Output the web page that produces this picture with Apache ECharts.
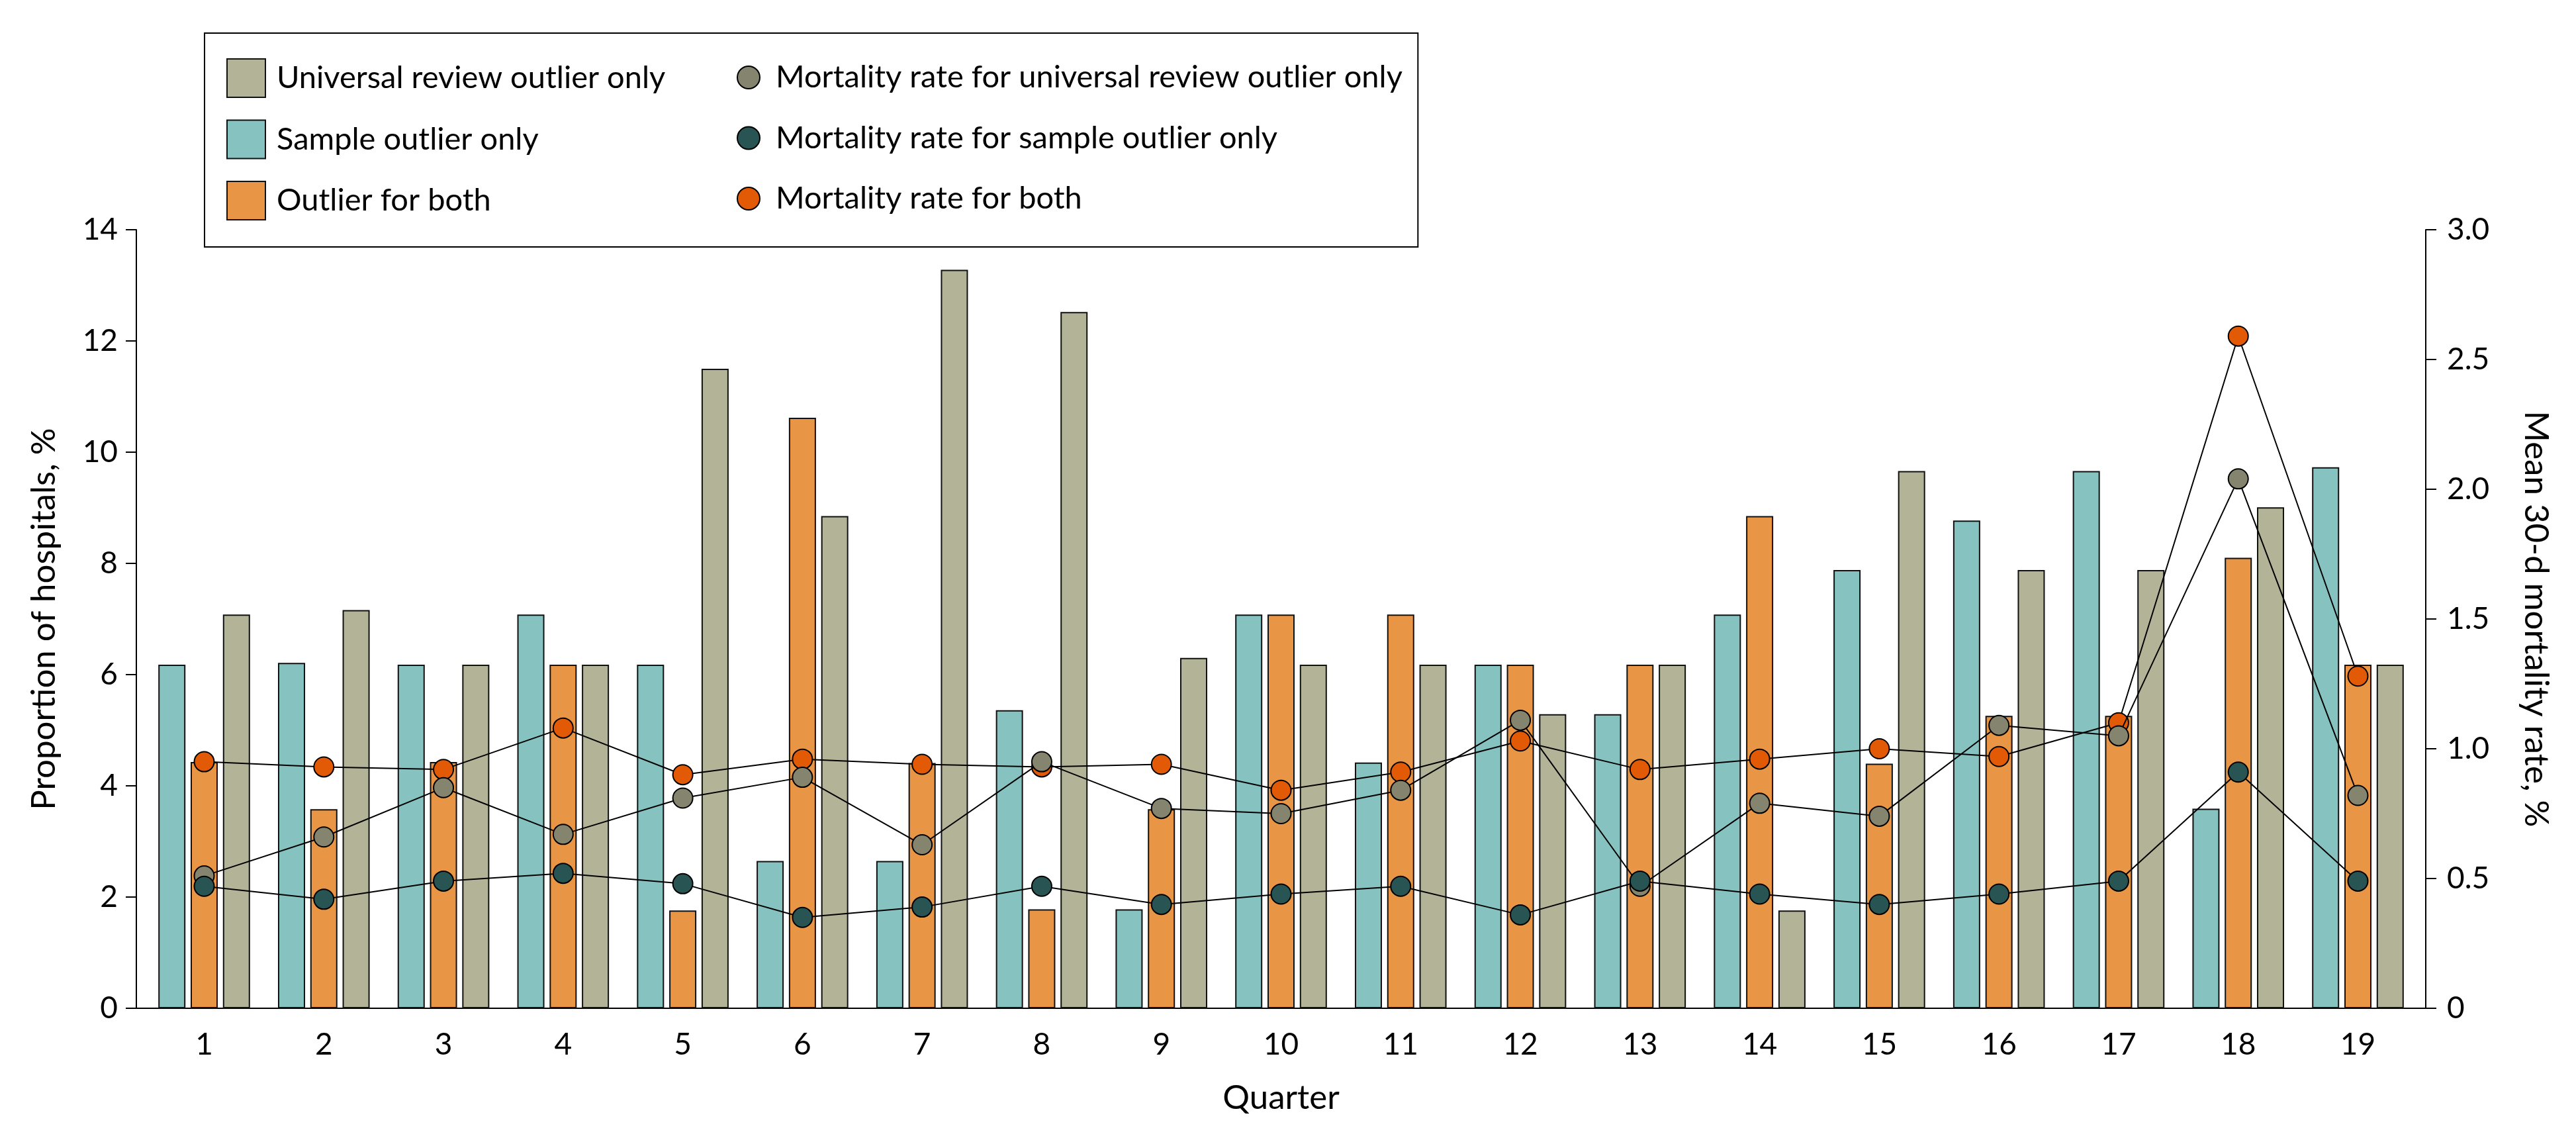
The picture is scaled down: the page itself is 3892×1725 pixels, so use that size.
<!DOCTYPE html>
<html>
<head>
<meta charset="utf-8">
<script src="https://cdn.jsdelivr.net/npm/echarts@6/dist/echarts.min.js"></script>
<style>
html,body{margin:0;padding:0;background:#fff;}
#c{width:3892px;height:1725px;}
</style>
</head>
<body>
<div id="c"></div>
<script>
// ---- data ----
const quarters = [1,2,3,4,5,6,7,8,9,10,11,12,13,14,15,16,17,18,19];
const sampleOutlierOnly = [6.18,6.21,6.18,7.08,6.18,2.65,2.65,5.36,1.78,7.08,4.42,6.18,5.29,7.08,7.88,8.77,9.66,3.59,9.73];
const outlierForBoth    = [4.43,3.58,4.43,6.18,1.76,10.62,4.41,1.78,3.58,7.08,7.08,6.18,6.18,8.85,4.40,5.26,5.26,8.10,6.18];
const universalOnly     = [7.08,7.16,6.18,6.18,11.50,8.85,13.28,12.52,6.30,6.18,6.18,5.29,6.18,1.76,9.66,7.88,7.88,9.01,6.18];
const mortalityBoth      = [0.95,0.93,0.92,1.08,0.90,0.96,0.94,0.93,0.94,0.84,0.91,1.03,0.92,0.96,1.00,0.97,1.10,2.59,1.28];
const mortalityUniversal = [0.51,0.66,0.85,0.67,0.81,0.89,0.63,0.95,0.77,0.75,0.84,1.11,0.47,0.79,0.74,1.09,1.05,2.04,0.82];
const mortalitySample    = [0.47,0.42,0.49,0.52,0.48,0.35,0.39,0.47,0.40,0.44,0.47,0.36,0.49,0.44,0.40,0.44,0.49,0.91,0.49];
const leftTickLabels  = ['0','2','4','6','8','10','12','14'];
const rightTickLabels = ['0','0.5','1.0','1.5','2.0','2.5','3.0'];

const NAMES = {
  universal: 'Universal review outlier only',
  sample: 'Sample outlier only',
  both: 'Outlier for both',
  mUniversal: 'Mortality rate for universal review outlier only',
  mSample: 'Mortality rate for sample outlier only',
  mBoth: 'Mortality rate for both'
};

const FONT = 'Lato';
const pairs = (vals) => quarters.map((q, i) => [q, vals[i]]);

const chart = echarts.init(document.getElementById('c'), null, {renderer: 'canvas', width: 3892, height: 1725});

const barStyle = (color) => ({color: color, borderColor: '#111', borderWidth: 2});
const lineSeries = (name, vals, color, z) => ({
  type: 'line', name: name, yAxisIndex: 1, data: pairs(vals),
  symbol: 'circle', symbolSize: 30, z: z,
  lineStyle: {color: '#000', width: 2},
  itemStyle: {color: color, borderColor: '#000', borderWidth: 2},
  emphasis: {disabled: true}
});

const option = {
  animation: false,
  backgroundColor: '#fff',
  grid: {left: 206, right: 227, top: 347, bottom: 202},
  legend: [
    {
      data: [NAMES.universal, NAMES.sample, NAMES.both],
      orient: 'vertical', left: 309, top: 50,
      padding: [38, 1137, 40, 33],
      itemWidth: 58, itemHeight: 58, itemGap: 32.5, icon: 'rect',
      borderColor: '#000', borderWidth: 2,
      selectedMode: false,
      textStyle: {fontFamily: FONT, fontSize: 47, color: '#000', lineHeight: 58, padding: [0, 0, 0, 12]}
    },
    {
      data: [NAMES.mUniversal, NAMES.mSample, NAMES.mBoth],
      orient: 'vertical', left: 1113, top: 93.5, padding: 0,
      itemWidth: 34, itemHeight: 47, itemGap: 44.5, icon: 'circle',
      selectedMode: false, z: 10,
      textStyle: {fontFamily: FONT, fontSize: 47, color: '#000', lineHeight: 47, padding: [0, 0, 0, 19]}
    }
  ],
  xAxis: {
    type: 'value', min: 0.433, max: 19.567,
    axisLine: {show: true, onZero: false, lineStyle: {color: '#000', width: 2}},
    axisTick: {show: false},
    splitLine: {show: false},
    axisLabel: {customValues: quarters, fontFamily: FONT, fontSize: 46, color: '#000', margin: 32},
    name: 'Quarter', nameLocation: 'middle', nameGap: 110,
    nameTextStyle: {fontFamily: FONT, fontSize: 51, color: '#000'}
  },
  yAxis: [
    {
      type: 'value', position: 'left', min: 0, max: 14, interval: 2,
      axisLine: {show: true, lineStyle: {color: '#000', width: 2}},
      axisTick: {show: true, length: 16, lineStyle: {color: '#000', width: 2}},
      splitLine: {show: false},
      axisLabel: {fontFamily: FONT, fontSize: 46, color: '#000', margin: 28,
        formatter: (v) => leftTickLabels[Math.round(v / 2)]},
      name: 'Proportion of hospitals, %', nameLocation: 'middle', nameRotate: 90, nameGap: 114,
      nameTextStyle: {fontFamily: FONT, fontSize: 51, color: '#000'}
    },
    {
      type: 'value', position: 'right', min: 0, max: 3, interval: 0.5,
      axisLine: {show: true, lineStyle: {color: '#000', width: 2}},
      axisTick: {show: true, length: 16, lineStyle: {color: '#000', width: 2}},
      splitLine: {show: false},
      axisLabel: {fontFamily: FONT, fontSize: 46, color: '#000', margin: 32,
        formatter: (v) => rightTickLabels[Math.round(v * 2)]},
      name: 'Mean 30-d mortality rate, %', nameLocation: 'middle', nameRotate: -90, nameGap: 141,
      nameTextStyle: {fontFamily: FONT, fontSize: 51, color: '#000'}
    }
  ],
  series: [
    {type: 'bar', name: NAMES.sample, data: pairs(sampleOutlierOnly), barWidth: 41, barGap: '19%', itemStyle: barStyle('#85C2C0'), emphasis: {disabled: true}},
    {type: 'bar', name: NAMES.both, data: pairs(outlierForBoth), barWidth: 41, barGap: '19%', itemStyle: barStyle('#E89646'), emphasis: {disabled: true}},
    {type: 'bar', name: NAMES.universal, data: pairs(universalOnly), barWidth: 41, barGap: '19%', itemStyle: barStyle('#B3B497'), emphasis: {disabled: true}},
    lineSeries(NAMES.mBoth, mortalityBoth, '#E35A06', 3),
    lineSeries(NAMES.mUniversal, mortalityUniversal, '#85856F', 4),
    lineSeries(NAMES.mSample, mortalitySample, '#285454', 5)
  ]
};
chart.setOption(option);
</script>
</body>
</html>
